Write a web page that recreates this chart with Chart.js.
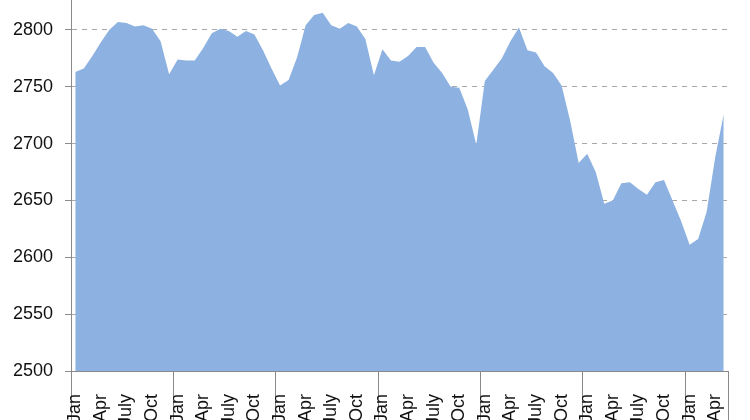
<!DOCTYPE html>
<html><head><meta charset="utf-8">
<script src="https://cdn.jsdelivr.net/npm/chart.js@4/dist/chart.umd.min.js"></script>
<style>
html,body{margin:0;padding:0;background:#fff;overflow:hidden;width:750px;height:420px;}
#wrap{position:absolute;left:0;top:-27px;width:750px;height:480px;}
</style></head><body>
<div id="wrap"><canvas id="c" width="750" height="480"></canvas></div>
<script>
// month names used on the category axis
const months = ['Jan','Feb','Mar','Apr','May','June','July','Aug','Sep','Oct','Nov','Dec'];
// labels shown on the axis (every third month)
const shownLabels = ['Jan','Apr','July','Oct'];
// monthly values, year by year
const year1 = [2763, 2766, 2777, 2789, 2800, 2807, 2806, 2803, 2804, 2801, 2790, 2761];
const year2 = [2774, 2773, 2773, 2784, 2797, 2801, 2799, 2794, 2799, 2796, 2782, 2766];
const year3 = [2751, 2756, 2776, 2804, 2813, 2815, 2804, 2801, 2806, 2803, 2792, 2760];
const year4 = [2783, 2773, 2772, 2777, 2785, 2785, 2771, 2762, 2750, 2749, 2730, 2699];
const year5 = [2755, 2765, 2775, 2790, 2802, 2782, 2780, 2768, 2762, 2751, 2720, 2683];
const year6 = [2691, 2675, 2647, 2650, 2665, 2666, 2660, 2655, 2666, 2668, 2650, 2632];
const year7 = [2611, 2616, 2640, 2688, 2726];
// y axis tick values
const yTicks = [2500, 2550, 2600, 2650, 2700, 2750, 2800, 2850];

const values = [].concat(year1, year2, year3, year4, year5, year6, year7);
const categories = values.map((v, i) => months[i % 12]);

new Chart(document.getElementById('c'), {
  type: 'line',
  data: {
    labels: categories,
    datasets: [{
      data: values,
      fill: 'start',
      backgroundColor: 'rgb(141,178,225)',
      borderWidth: 0,
      borderColor: 'rgba(0,0,0,0)',
      pointRadius: 0,
      tension: 0
    }]
  },
  options: {
    responsive: false,
    animation: false,
    layout: { padding: { left: 0, right: 22, top: 0, bottom: 0 } },
    plugins: { legend: { display: false }, tooltip: { enabled: false } },
    scales: {
      x: {
        offset: true,
        grid: {
          offset: true,
          drawOnChartArea: false,
          drawTicks: true,
          tickLength: 80,
          color: (ctx) => (ctx.index === undefined || ctx.index % 12 === 0) ? '#8a8a8a' : 'rgba(0,0,0,0)',
          lineWidth: 1
        },
        border: { display: true, color: '#8a8a8a', width: 1 },
        ticks: {
          autoSkip: false,
          maxRotation: 90,
          minRotation: 90,
          padding: -57,
          color: '#111',
          font: { family: 'Liberation Sans', size: 18 },
          callback: function(value, index) {
            const lbl = categories[index];
            return shownLabels.includes(lbl) ? lbl : '';
          }
        },
        afterFit: (s) => { s.height = 82; s.paddingLeft = 0; s.paddingRight = 0; }
      },
      y: {
        min: yTicks[0],
        max: yTicks[yTicks.length - 1],
        afterBuildTicks: (s) => { s.ticks = yTicks.map(v => ({ value: v })); },
        grid: {
          color: '#a8a8a8',
          lineWidth: 1,
          drawTicks: true,
          tickLength: 6,
          tickColor: '#8a8a8a'
        },
        border: { display: true, color: '#8a8a8a', width: 1, dash: [5, 5] },
        ticks: {
          padding: 12,
          color: '#111',
          font: { family: 'Liberation Sans', size: 18 },
          callback: (v) => String(v)
        },
        afterFit: (s) => { s.width = 71; s.paddingTop = 0; s.paddingBottom = 0; }
      }
    }
  }
});
</script>
</body></html>
